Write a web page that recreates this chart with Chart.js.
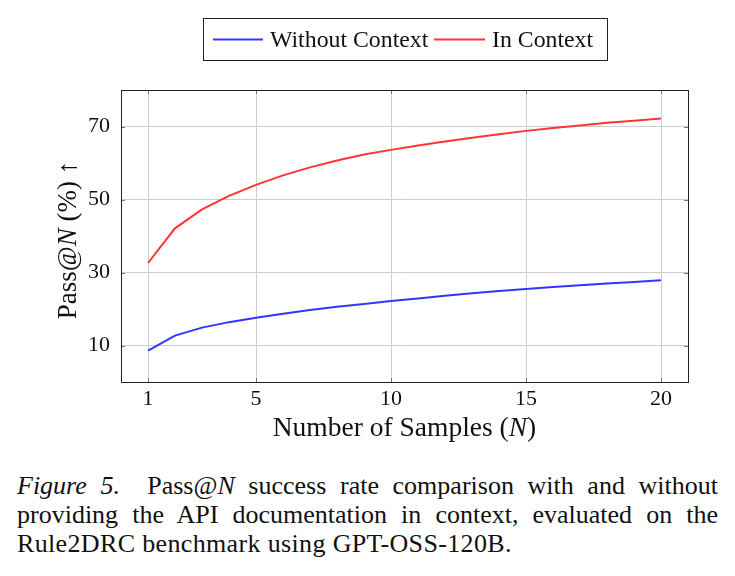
<!DOCTYPE html>
<html>
<head>
<meta charset="utf-8">
<script src="https://cdn.jsdelivr.net/npm/chart.js@4.4.0/dist/chart.umd.min.js"></script>
<style>
  html, body { margin: 0; padding: 0; background: #fff; }
  #wrap { position: relative; width: 735px; height: 576px; overflow: hidden; }
  #box { position: absolute; left: 0; top: 0; width: 735px; height: 460px; }
  .cap { position: absolute; left: 17px; width: 701px; font-family: "Liberation Serif", "Times New Roman", serif;
         font-size: 26px; letter-spacing: 0.35px; line-height: 28px; height: 28px; color: #111; white-space: nowrap; }
  .just { text-align: justify; text-align-last: justify; white-space: normal; letter-spacing: 0; }
</style>
</head>
<body>
<div id="wrap">
  <div id="box"><canvas id="c"></canvas></div>
  <div class="cap just" style="top:472px"><i>Figure 5.</i>&nbsp; Pass@<i>N</i> success rate comparison with and without</div>
  <div class="cap just" style="top:501px">providing the API documentation in context, evaluated on the</div>
  <div class="cap" style="top:530px">Rule2DRC benchmark using GPT-OSS-120B.</div>
</div>
<script>
const samples = [1, 2, 3, 4, 5, 6, 7, 8, 9, 10, 11, 12, 13, 14, 15, 16, 17, 18, 19, 20];
const withoutContext = [8.6, 12.7, 14.9, 16.4, 17.6, 18.7, 19.7, 20.6, 21.4, 22.2, 22.9, 23.6, 24.3, 24.9, 25.5, 26.0, 26.5, 27.0, 27.4, 27.9];
const inContext = [32.6, 42.1, 47.3, 51.0, 54.0, 56.6, 58.8, 60.7, 62.3, 63.6, 64.8, 65.9, 66.9, 67.9, 68.8, 69.6, 70.3, 71.0, 71.6, 72.2];
const xTicks = [1, 5, 10, 15, 20];
const yTicks = [10, 30, 50, 70];
const seriesNames = ['Without Context', 'In Context'];
const seriesColors = ['#3434ff', '#ff3434'];

const SERIF = '"Liberation Serif", "Times New Roman", serif';

function richText(ctx, segs, x, y, size) {
  let total = 0;
  const widths = segs.map(s => {
    ctx.font = (s.i ? 'italic ' : '') + size + 'px ' + SERIF;
    const w = ctx.measureText(s.t).width;
    total += w;
    return w;
  });
  let cx = x - total / 2;
  segs.forEach((s, k) => {
    ctx.font = (s.i ? 'italic ' : '') + size + 'px ' + SERIF;
    ctx.fillText(s.t, cx, y);
    cx += widths[k];
  });
}

const decor = {
  id: 'decor',
  afterDraw(chart) {
    const ctx = chart.ctx;
    const a = chart.chartArea;
    const xs = chart.scales.x, ys = chart.scales.y;
    ctx.save();
    // inner tick marks
    ctx.strokeStyle = '#777';
    ctx.lineWidth = 1;
    xTicks.forEach(v => {
      const px = Math.round(xs.getPixelForValue(v)) + 0.5;
      ctx.beginPath(); ctx.moveTo(px, a.bottom); ctx.lineTo(px, a.bottom - 4); ctx.stroke();
      ctx.beginPath(); ctx.moveTo(px, a.top); ctx.lineTo(px, a.top + 4); ctx.stroke();
    });
    yTicks.forEach(v => {
      const py = Math.round(ys.getPixelForValue(v)) + 0.5;
      ctx.beginPath(); ctx.moveTo(a.left, py); ctx.lineTo(a.left + 4, py); ctx.stroke();
      ctx.beginPath(); ctx.moveTo(a.right, py); ctx.lineTo(a.right - 4, py); ctx.stroke();
    });
    // frame
    ctx.strokeStyle = '#222';
    ctx.lineWidth = 1;
    ctx.strokeRect(Math.round(a.left) + 0.5, Math.round(a.top) + 0.5, Math.round(a.right - a.left), Math.round(a.bottom - a.top));
    // axis titles
    ctx.fillStyle = '#111';
    ctx.textBaseline = 'middle';
    ctx.textAlign = 'left';
    richText(ctx, [{t: 'Number of Samples (', i: false}, {t: 'N', i: true}, {t: ')', i: false}], (a.left + a.right) / 2, 429, 27.5);
    ctx.save();
    ctx.translate(69, (a.top + a.bottom) / 2 + 4);
    ctx.rotate(-Math.PI / 2);
    richText(ctx, [{t: 'Pass@', i: false}, {t: 'N', i: true}, {t: ' (%) ', i: false}, {t: '\u2191', i: false}], 0, 0, 27);
    ctx.restore();
    // legend
    ctx.strokeStyle = '#222';
    ctx.strokeRect(203.5, 18.5, 404, 42);
    ctx.font = '23.8px ' + SERIF;
    ctx.textBaseline = 'middle';
    const ly = 39.5;
    ctx.lineWidth = 2;
    ctx.strokeStyle = seriesColors[0];
    ctx.beginPath(); ctx.moveTo(213, ly); ctx.lineTo(263, ly); ctx.stroke();
    ctx.fillText(seriesNames[0], 270, ly + 1);
    ctx.strokeStyle = seriesColors[1];
    ctx.beginPath(); ctx.moveTo(434, ly); ctx.lineTo(485, ly); ctx.stroke();
    ctx.fillText(seriesNames[1], 492, ly + 1);
    ctx.restore();
  }
};

new Chart(document.getElementById('c'), {
  type: 'line',
  data: {
    datasets: [
      { label: seriesNames[0], data: samples.map((n, i) => ({x: n, y: withoutContext[i]})),
        borderColor: seriesColors[0], borderWidth: 2, pointRadius: 0, tension: 0, fill: false },
      { label: seriesNames[1], data: samples.map((n, i) => ({x: n, y: inContext[i]})),
        borderColor: seriesColors[1], borderWidth: 2, pointRadius: 0, tension: 0, fill: false }
    ]
  },
  options: {
    responsive: true,
    maintainAspectRatio: false,
    animation: false,
    events: [],
    layout: { padding: { top: 90, right: 47, bottom: 0, left: 0 } },
    plugins: { legend: { display: false }, tooltip: { enabled: false } },
    scales: {
      x: {
        type: 'linear', min: 0, max: 21,
        afterBuildTicks: s => { s.ticks = xTicks.map(v => ({value: v})); },
        afterFit: s => { s.height = 78; },
        ticks: { color: '#111', font: { family: SERIF, size: 22 }, padding: 4, maxRotation: 0, autoSkip: false },
        grid: { color: '#cdcdcd', lineWidth: 1, drawTicks: false },
        border: { display: false }
      },
      y: {
        type: 'linear', min: 0, max: 80,
        afterBuildTicks: s => { s.ticks = yTicks.map(v => ({value: v})); },
        afterFit: s => { s.width = 121; },
        ticks: { color: '#111', font: { family: SERIF, size: 22 }, padding: 11, autoSkip: false },
        grid: { color: '#cdcdcd', lineWidth: 1, drawTicks: false },
        border: { display: false }
      }
    }
  },
  plugins: [decor]
});
</script>
</body>
</html>
